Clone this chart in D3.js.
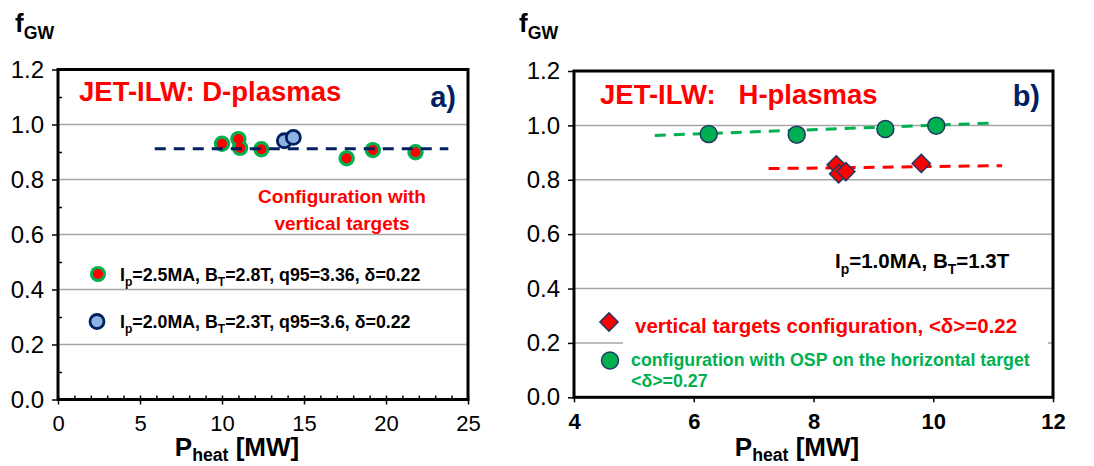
<!DOCTYPE html>
<html>
<head>
<meta charset="utf-8">
<script src="https://cdn.jsdelivr.net/npm/d3@7"></script>
<style>
  body { margin: 0; background: #fff; }
  svg { display: block; font-family: Arial, "Liberation Sans", sans-serif; }
</style>
</head>
<body>
<svg id="chart" width="1094" height="466"></svg>
<script>
// ---- data ----
const fTicks = [0, 0.2, 0.4, 0.6, 0.8, 1.0, 1.2];
const fMinor = [0.1, 0.3, 0.5, 0.7, 0.9, 1.1];

// a) D-plasmas
const dTicksX = [0, 5, 10, 15, 20, 25];
const dIp25Pheat = [10.0, 11.0, 11.1, 12.4, 17.6, 19.2, 21.8];
const dIp25Fgw   = [0.93, 0.947, 0.915, 0.91, 0.877, 0.907, 0.899];
const dIp20Pheat = [13.8, 14.35];
const dIp20Fgw   = [0.941, 0.953];
const dFitPheat  = [5.9, 23.8];
const dFitFgw    = [0.912, 0.912];

// b) H-plasmas
const hTicksX = [4, 6, 8, 10, 12];
const hVertPheat = [8.38, 8.42, 8.54, 9.8];
const hVertFgw   = [0.855, 0.822, 0.83, 0.86];
const hHorPheat  = [6.25, 7.72, 9.2, 10.05];
const hHorFgw    = [0.968, 0.966, 0.987, 0.999];
const hVertFitPheat = [7.25, 11.15];
const hVertFitFgw   = [0.841, 0.852];
const hHorFitPheat  = [5.35, 11.05];
const hHorFitFgw    = [0.963, 1.009];

const GREEN = '#00b050', RED = '#ff0000', NAVY = '#1f3864', DARKBLUE = '#002060';
const LIGHTBLUE = '#8db3e2', GRID = '#a6a6a6';

const svg = d3.select('#chart');
svg.append('rect').attr('width', 1094).attr('height', 466).attr('fill', '#fff');

const zip = (xs, ys) => xs.map((v, i) => [v, ys[i]]);

// text with subscripts: parts = [[text, isSub], ...]
function richText(g, x, y, parts, size, opts = {}) {
  const t = g.append('text')
    .attr('x', x).attr('y', y)
    .attr('font-size', size)
    .attr('font-weight', opts.weight || 'bold')
    .attr('fill', opts.fill || '#000')
    .attr('text-anchor', opts.anchor || 'start')
    .style('white-space', 'pre');
  const shift = opts.shift || 0.28;
  let down = false;
  parts.forEach(([s, sub]) => {
    const ts = t.append('tspan').text(s);
    if (sub && !down) { ts.attr('font-size', size * 0.68).attr('dy', size * shift); down = true; }
    else if (sub) { ts.attr('font-size', size * 0.68); }
    else if (down) { ts.attr('dy', -size * shift); down = false; }
  });
  return t;
}

function panelBase(x, y, xTicks, boldX, minor) {
  const g = svg.append('g');
  const [x0, x1] = x.range();
  const [y0, y1] = y.range();

  g.selectAll('.grid').data(fTicks.filter(v => v > 0 && v < 1.2))
    .enter().append('line')
    .attr('x1', x0).attr('x2', x1)
    .attr('y1', d => y(d)).attr('y2', d => y(d))
    .attr('stroke', GRID).attr('stroke-width', 1.5);

  const yAxis = g.append('g').attr('transform', `translate(${x0},0)`)
    .call(d3.axisLeft(y).tickValues(fTicks).tickFormat(d3.format('.1f')).tickSize(6).tickPadding(8));
  yAxis.selectAll('text').attr('font-size', 24).attr('fill', '#000').attr('font-family', null);

  const xAxis = g.append('g').attr('transform', `translate(0,${y0})`)
    .call(d3.axisBottom(x).tickValues(xTicks).tickSize(5).tickPadding(11));
  xAxis.selectAll('text').attr('font-size', 22).attr('fill', '#000').attr('font-family', null)
    .attr('font-weight', boldX ? 'bold' : 'normal');

  if (minor) {
    g.append('g').attr('transform', `translate(${x0},0)`)
      .call(d3.axisLeft(y).tickValues(fMinor).tickSize(-4).tickFormat(''));
    g.append('g').attr('transform', `translate(0,${y0})`)
      .call(d3.axisBottom(x).tickValues(d3.range(x.domain()[0], x.domain()[1] + 1)).tickSize(-4).tickFormat(''));
  }
  g.selectAll('.domain').remove();
  g.selectAll('.tick line').attr('stroke', '#000').attr('stroke-width', 1.5);
  return g;
}

function frame(g, x, y) {
  const [x0, x1] = x.range();
  const [y0, y1] = y.range();
  g.append('rect').attr('x', x0).attr('y', y1).attr('width', x1 - x0).attr('height', y0 - y1)
    .attr('fill', 'none').attr('stroke', '#000').attr('stroke-width', 3);
}

// ================= panel a =================
const xa = d3.scaleLinear().domain([0, 25]).range([58, 468]);
const ya = d3.scaleLinear().domain([0, 1.2]).range([399.5, 69.5]);
const ga = panelBase(xa, ya, dTicksX, false, true);

ga.selectAll('.ip25o').data(zip(dIp25Pheat, dIp25Fgw)).enter().append('circle')
  .attr('cx', d => xa(d[0])).attr('cy', d => ya(d[1])).attr('r', 8.2).attr('fill', GREEN);
ga.selectAll('.ip25i').data(zip(dIp25Pheat, dIp25Fgw)).enter().append('circle')
  .attr('cx', d => xa(d[0])).attr('cy', d => ya(d[1])).attr('r', 5).attr('fill', RED);
ga.selectAll('.ip20').data(zip(dIp20Pheat, dIp20Fgw)).enter().append('circle')
  .attr('cx', d => xa(d[0])).attr('cy', d => ya(d[1])).attr('r', 7)
  .attr('fill', LIGHTBLUE).attr('stroke', DARKBLUE).attr('stroke-width', 2.8);

ga.append('path').datum(zip(dFitPheat, dFitFgw))
  .attr('d', d3.line().x(d => xa(d[0])).y(d => ya(d[1])))
  .attr('fill', 'none').attr('stroke', DARKBLUE).attr('stroke-width', 3).attr('stroke-dasharray', '11,8');

frame(ga, xa, ya);

ga.append('text').attr('x', 79).attr('y', 101).attr('font-size', 27.5).attr('font-weight', 'bold')
  .attr('fill', RED).text('JET-ILW: D-plasmas');
ga.append('text').attr('x', 456).attr('y', 107).attr('text-anchor', 'end').attr('font-size', 29)
  .attr('font-weight', 'bold').attr('fill', DARKBLUE).text('a)');
ga.append('text').attr('x', 342).attr('y', 203).attr('text-anchor', 'middle').attr('font-size', 19)
  .attr('font-weight', 'bold').attr('fill', RED).text('Configuration with');
ga.append('text').attr('x', 342).attr('y', 230).attr('text-anchor', 'middle').attr('font-size', 19)
  .attr('font-weight', 'bold').attr('fill', RED).text('vertical targets');

// legend a
ga.append('circle').attr('cx', 98).attr('cy', 274).attr('r', 8).attr('fill', GREEN);
ga.append('circle').attr('cx', 98).attr('cy', 274).attr('r', 5).attr('fill', RED);
richText(ga, 120, 281, [['I'], ['p', 1], ['=2.5MA, B'], ['T', 1], ['=2.8T, q95=3.36, δ=0.22']], 17.8);
ga.append('circle').attr('cx', 97).attr('cy', 321.5).attr('r', 7)
  .attr('fill', LIGHTBLUE).attr('stroke', DARKBLUE).attr('stroke-width', 2.8);
richText(ga, 120, 328, [['I'], ['p', 1], ['=2.0MA, B'], ['T', 1], ['=2.3T, q95=3.6, δ=0.22']], 17.8);

richText(ga, 15, 32, [['f'], ['GW', 1]], 26);
richText(ga, 237, 456, [['P'], ['heat', 1], [' [MW]']], 26, { anchor: 'middle', shift: 0.2 });

// ================= panel b =================
const xb = d3.scaleLinear().domain([4, 12]).range([574, 1053]);
const yb = d3.scaleLinear().domain([0, 1.2]).range([397.3, 71]);
const gb = panelBase(xb, yb, hTicksX, true, false);

// white legend box hides the grid
gb.append('rect').attr('x', 623).attr('y', 300).attr('width', 425).attr('height', 94).attr('fill', '#fff');

const line = d3.line().x(d => xb(d[0])).y(d => yb(d[1]));
gb.append('path').datum(zip(hHorFitPheat, hHorFitFgw)).attr('d', line)
  .attr('fill', 'none').attr('stroke', GREEN).attr('stroke-width', 3).attr('stroke-dasharray', '11,8');
gb.append('path').datum(zip(hVertFitPheat, hVertFitFgw)).attr('d', line)
  .attr('fill', 'none').attr('stroke', RED).attr('stroke-width', 3).attr('stroke-dasharray', '11,8');

const diamond = d3.symbol(d3.symbolSquare, 165);
gb.selectAll('.vert').data(zip(hVertPheat, hVertFgw)).enter().append('path')
  .attr('d', diamond)
  .attr('transform', d => `translate(${xb(d[0])},${yb(d[1])}) rotate(45)`)
  .attr('fill', RED).attr('stroke', NAVY).attr('stroke-width', 1.5);
gb.selectAll('.hor').data(zip(hHorPheat, hHorFgw)).enter().append('circle')
  .attr('cx', d => xb(d[0])).attr('cy', d => yb(d[1])).attr('r', 8.5)
  .attr('fill', GREEN).attr('stroke', NAVY).attr('stroke-width', 1.5);

frame(gb, xb, yb);

gb.append('text').attr('x', 600).attr('y', 104).attr('font-size', 27.5).attr('font-weight', 'bold')
  .attr('fill', RED).style('white-space', 'pre').text('JET-ILW:   H-plasmas');
gb.append('text').attr('x', 1040).attr('y', 106).attr('text-anchor', 'end').attr('font-size', 29)
  .attr('font-weight', 'bold').attr('fill', DARKBLUE).text('b)');
richText(gb, 835, 268, [['I'], ['p', 1], ['=1.0MA, B'], ['T', 1], ['=1.3T']], 20.5);

gb.append('path').attr('d', diamond)
  .attr('transform', 'translate(609,322) rotate(45)')
  .attr('fill', RED).attr('stroke', NAVY).attr('stroke-width', 1.5);
gb.append('text').attr('x', 635).attr('y', 333).attr('font-size', 20.5).attr('font-weight', 'bold')
  .attr('fill', RED).text('vertical targets configuration, <δ>=0.22');
gb.append('circle').attr('cx', 610).attr('cy', 360.5).attr('r', 8.5)
  .attr('fill', GREEN).attr('stroke', NAVY).attr('stroke-width', 1.5);
gb.append('text').attr('x', 631).attr('y', 365.5).attr('font-size', 17.8).attr('font-weight', 'bold')
  .attr('fill', GREEN).text('configuration with OSP on the horizontal target');
gb.append('text').attr('x', 631).attr('y', 387).attr('font-size', 17.8).attr('font-weight', 'bold')
  .attr('fill', GREEN).text('<δ>=0.27');

richText(gb, 519, 32, [['f'], ['GW', 1]], 26);
richText(gb, 797, 456, [['P'], ['heat', 1], [' [MW]']], 26, { anchor: 'middle', shift: 0.2 });
</script>
</body>
</html>
